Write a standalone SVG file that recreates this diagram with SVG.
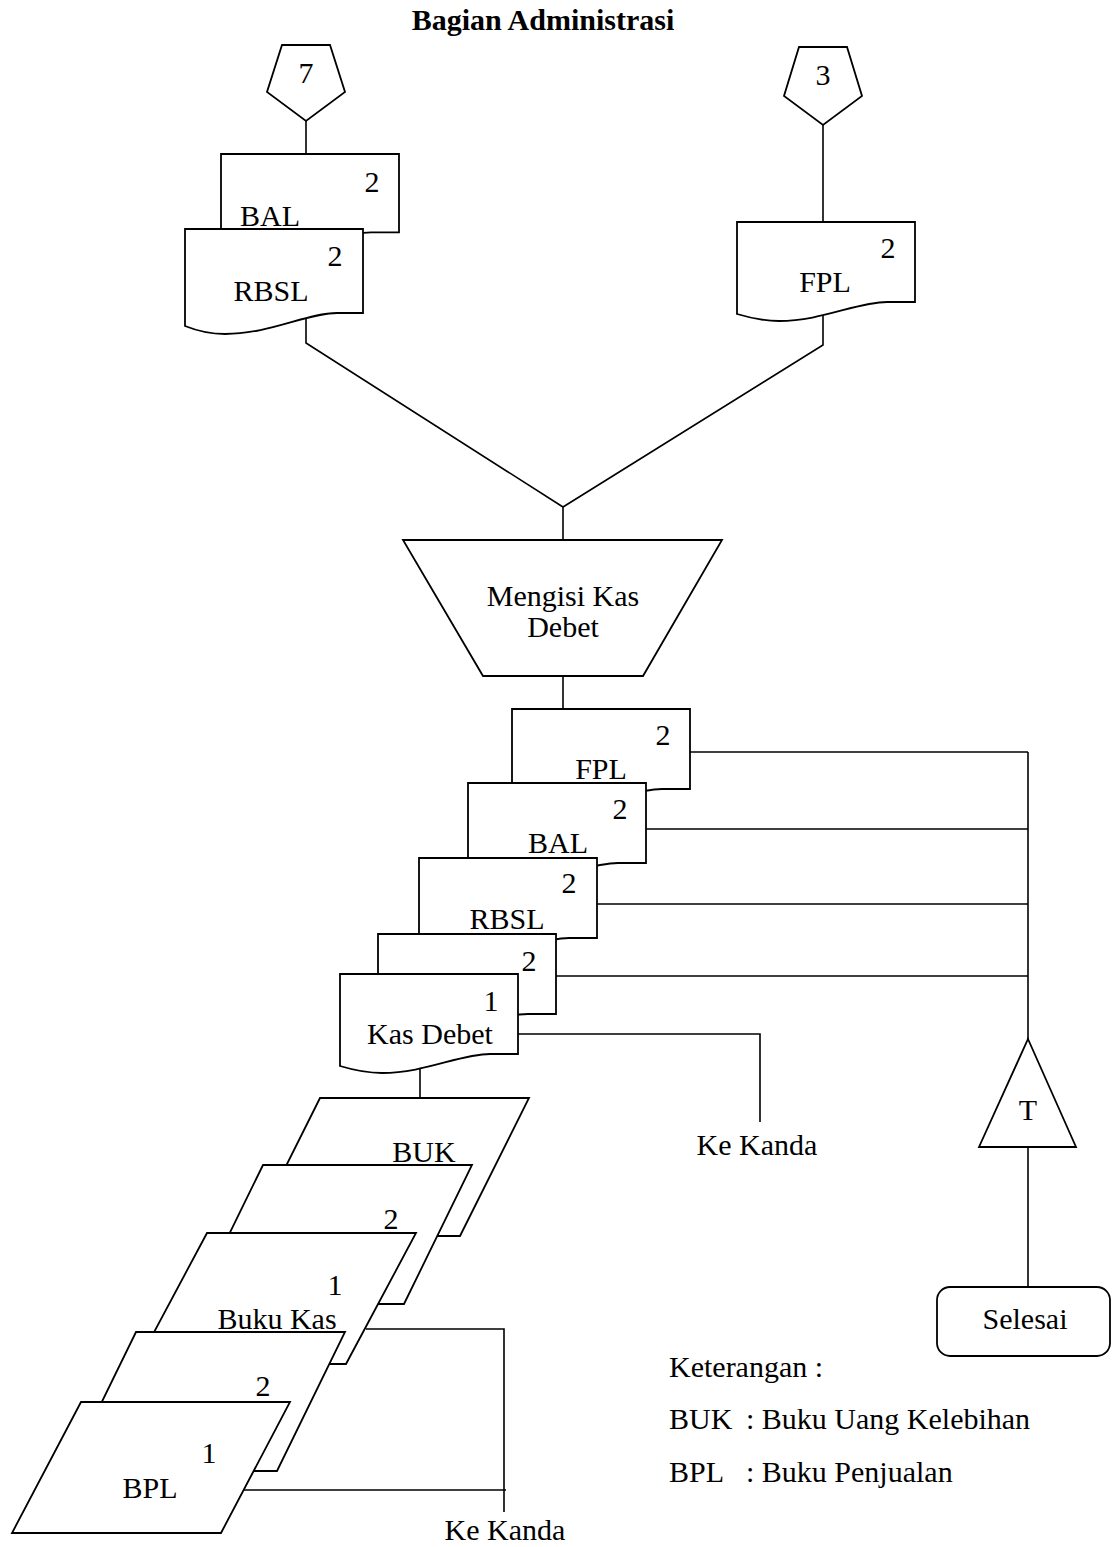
<svg xmlns="http://www.w3.org/2000/svg" width="1113" height="1547" viewBox="0 0 1113 1547">
  <style>
    text { font-family: "Liberation Serif", "Times New Roman", serif; font-size: 30px; fill: #000; }
    .title { font-weight: bold; font-size: 30px; text-anchor: middle; }
    .mid { text-anchor: middle; }
    .shape { fill: #fff; stroke: #000; stroke-width: 1.8; stroke-linejoin: miter; }
    .wire { fill: none; stroke: #000; stroke-width: 1.6; }
  </style>
  <defs>
    <!-- flowchart document symbol, origin at top-left corner -->
    <path id="doc" d="M0,0 H178 V80 H150 C120,80 85,99 42,99 C25,99 10,95 0,92 Z"/>
    <path id="docTall" d="M0,0 H178 V84 H152 C122,84 85,105 40,105 C24,105 10,101 0,97 Z"/>
  </defs>

  <rect width="1113" height="1547" fill="#fff"/>
  <text class="title" x="543" y="30">Bagian Administrasi</text>

  <g id="connectors">
    <path class="wire" d="M306,121 V154"/>
    <path class="wire" d="M823,125 V222"/>
    <path class="wire" d="M306,318 V343 L563,507"/>
    <path class="wire" d="M823,312 V345 L563,507"/>
    <path class="wire" d="M563,507 V540"/>
    <path class="wire" d="M563,676 V709"/>
    <path class="wire" d="M690,752 H1028"/>
    <path class="wire" d="M646,829 H1028"/>
    <path class="wire" d="M597,904 H1028"/>
    <path class="wire" d="M556,976 H1028"/>
    <path class="wire" d="M1028,752 V1039"/>
    <path class="wire" d="M1028,1147 V1287"/>
    <path class="wire" d="M518,1034 H760 V1122"/>
    <path class="wire" d="M420,1060 V1098"/>
    <path class="wire" d="M366,1329 H504 V1512"/>
    <path class="wire" d="M244,1490 H506"/>
  </g>

  <g id="conn-7">
    <polygon class="shape" points="282,45 330,45 345,92 306,121 267,92"/>
    <text class="mid" x="306" y="83">7</text>
  </g>
  <g id="conn-3">
    <polygon class="shape" points="799,47 847,47 862,96 823,125 784,96"/>
    <text class="mid" x="823" y="85">3</text>
  </g>

  <g id="doc-bal-in">
    <use href="#doc" class="shape" transform="translate(221,154) scale(1,0.98)"/>
    <text class="mid" x="372" y="192">2</text>
    <text class="mid" x="270" y="226">BAL</text>
  </g>
  <g id="doc-rbsl-in">
    <use href="#docTall" class="shape" transform="translate(185,229)"/>
    <text class="mid" x="335" y="266">2</text>
    <text class="mid" x="271" y="301">RBSL</text>
  </g>
  <g id="doc-fpl-in">
    <use href="#doc" class="shape" transform="translate(737,222)"/>
    <text class="mid" x="888" y="258">2</text>
    <text class="mid" x="825" y="292">FPL</text>
  </g>

  <g id="proc-kas-debet">
    <polygon class="shape" points="403,540 722,540 643,676 483,676"/>
    <text class="mid" x="563" y="606">Mengisi Kas</text>
    <text class="mid" x="563" y="637">Debet</text>
  </g>

  <g id="doc-fpl-out">
    <use href="#doc" class="shape" transform="translate(512,709)"/>
    <text class="mid" x="663" y="745">2</text>
    <text class="mid" x="601" y="779">FPL</text>
  </g>
  <g id="doc-bal-out">
    <use href="#doc" class="shape" transform="translate(468,783)"/>
    <text class="mid" x="620" y="819">2</text>
    <text class="mid" x="558" y="853">BAL</text>
  </g>
  <g id="doc-rbsl-out">
    <use href="#doc" class="shape" transform="translate(419,858)"/>
    <text class="mid" x="569" y="893">2</text>
    <text class="mid" x="507" y="929">RBSL</text>
  </g>
  <g id="doc-kas-debet-2">
    <use href="#doc" class="shape" transform="translate(378,934)"/>
    <text class="mid" x="529" y="971">2</text>
  </g>
  <g id="doc-kas-debet-1">
    <use href="#doc" class="shape" transform="translate(340,974)"/>
    <text class="mid" x="491" y="1011">1</text>
    <text class="mid" x="430" y="1044">Kas Debet</text>
  </g>

  <g id="book-buk">
    <polygon class="shape" points="320,1098 529,1098 460,1236 251,1236"/>
    <text class="mid" x="424" y="1162">BUK</text>
  </g>
  <g id="book-kas-2">
    <polygon class="shape" points="263,1165 472,1165 404,1304 195,1304"/>
    <text class="mid" x="391" y="1229">2</text>
  </g>
  <g id="book-kas-1">
    <polygon class="shape" points="207,1233 416,1233 346,1364 137,1364"/>
    <text class="mid" x="335" y="1295">1</text>
    <text class="mid" x="277" y="1329">Buku Kas</text>
  </g>
  <g id="book-bpl-2">
    <polygon class="shape" points="136,1332 345,1332 277,1471 68,1471"/>
    <text class="mid" x="263" y="1396">2</text>
  </g>
  <g id="book-bpl-1">
    <polygon class="shape" points="81,1402 290,1402 221,1533 12,1533"/>
    <text class="mid" x="209" y="1463">1</text>
    <text class="mid" x="150" y="1498">BPL</text>
  </g>

  <g id="to-kanda-1">
    <text class="mid" x="757" y="1155">Ke Kanda</text>
  </g>
  <g id="to-kanda-2">
    <text class="mid" x="505" y="1540">Ke Kanda</text>
  </g>

  <g id="archive-t">
    <polygon class="shape" points="1028,1039 1076,1147 979,1147"/>
    <text class="mid" x="1028" y="1120">T</text>
  </g>
  <g id="end">
    <rect class="shape" x="937" y="1287" width="173" height="69" rx="13"/>
    <text class="mid" x="1025" y="1329">Selesai</text>
  </g>

  <g id="legend">
    <text x="669" y="1377">Keterangan :</text>
    <text x="669" y="1429">BUK<tspan x="746">: Buku Uang Kelebihan</tspan></text>
    <text x="669" y="1482">BPL<tspan x="746">: Buku Penjualan</tspan></text>
  </g>
</svg>
